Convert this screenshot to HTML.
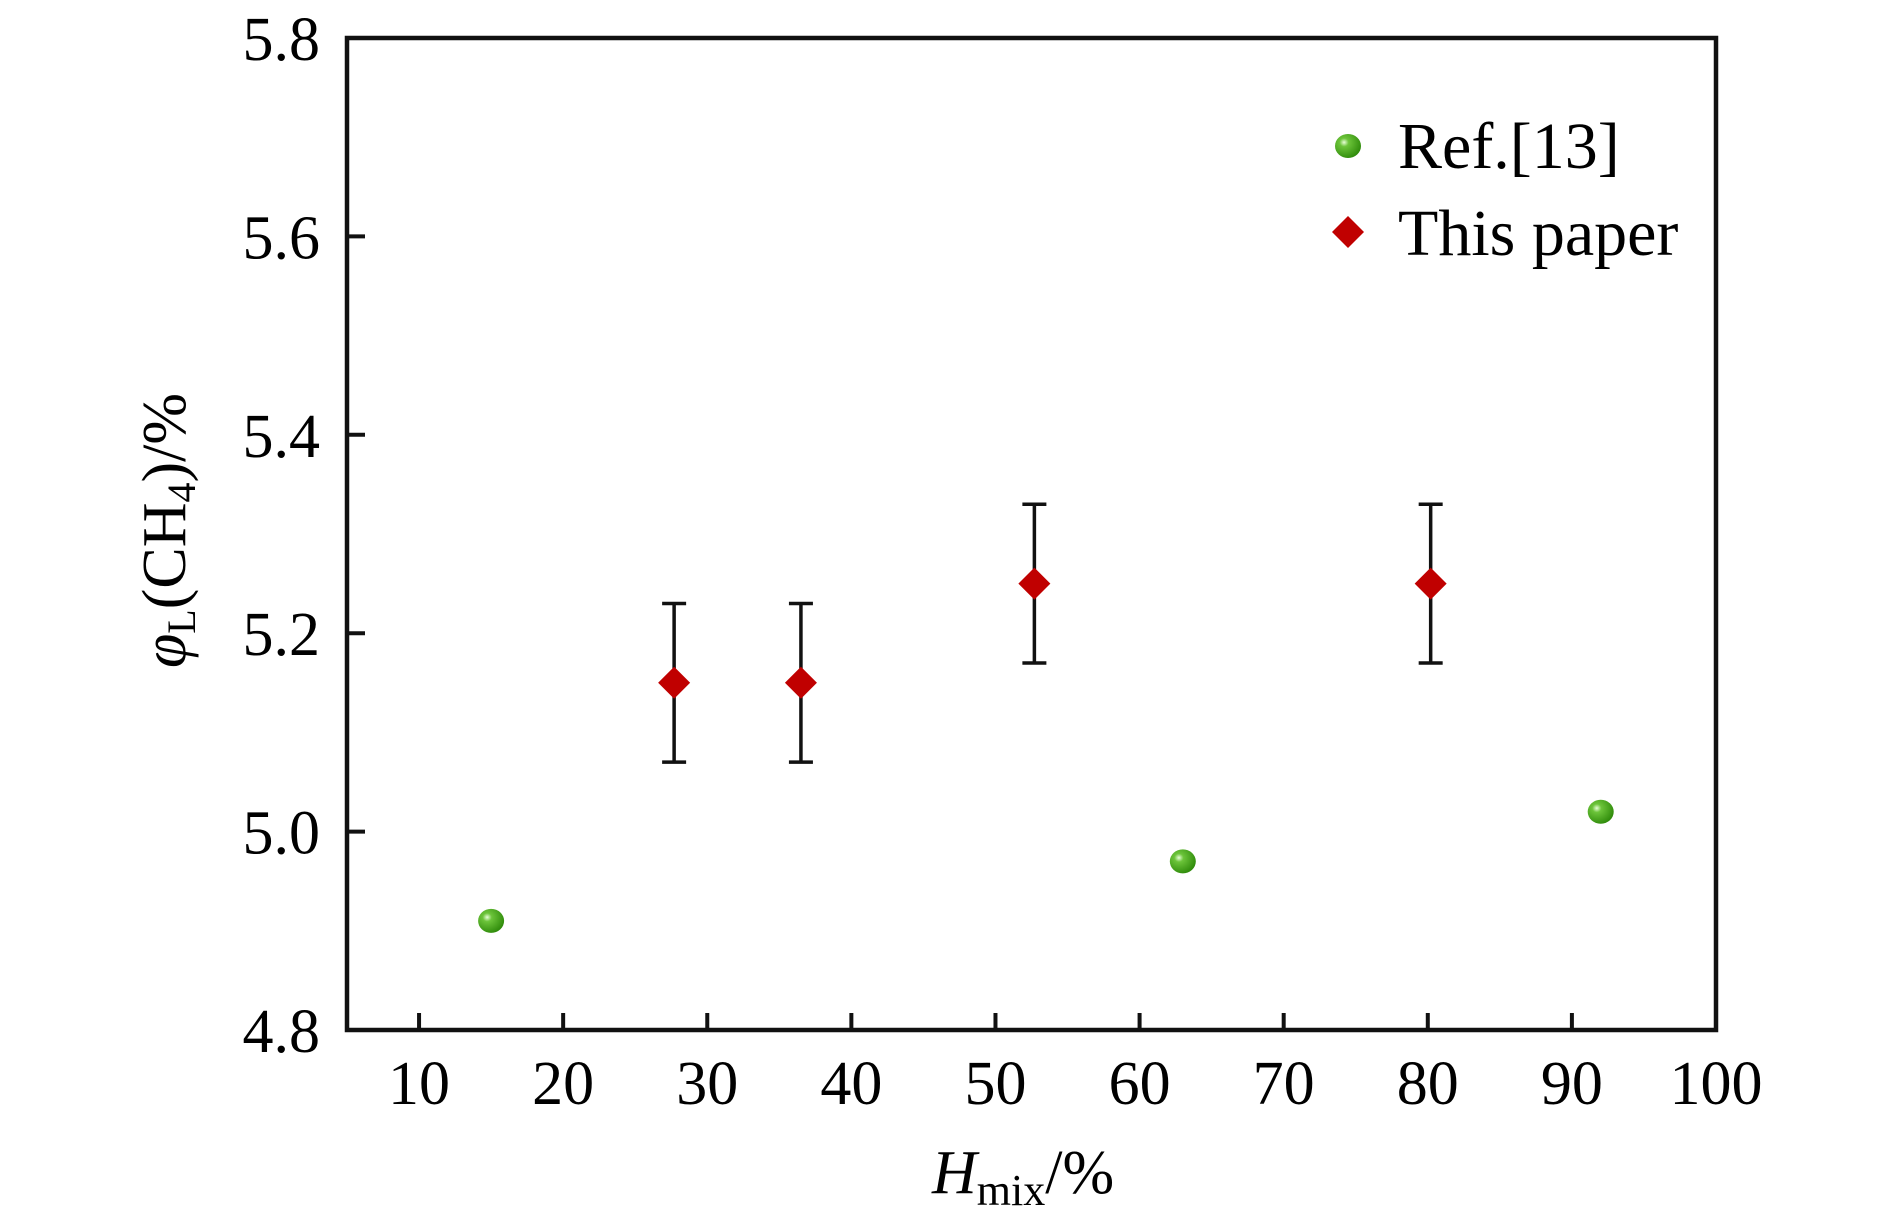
<!DOCTYPE html>
<html><head><meta charset="utf-8"><style>
html,body{margin:0;padding:0;background:#fff;}
svg{display:block;font-family:"Liberation Serif","DejaVu Serif",serif;}
</style></head><body>
<svg id="chart" width="1890" height="1214" viewBox="0 0 1890 1214">
<defs>
<radialGradient id="ball" cx="0.35" cy="0.35" r="0.7">
<stop offset="0" stop-color="#e8ffd8"/><stop offset="0.25" stop-color="#6cc43a"/><stop offset="1" stop-color="#2e8a0a"/>
</radialGradient>
</defs>
<g id="axes"></g>
<g id="marks"></g>
<g>
<ellipse cx="1348" cy="146" rx="13" ry="12" fill="url(#ball)"/>
<text x="1398" y="168" font-size="66">Ref.[13]</text>
<polygon points="1348,216 1364,232 1348,248 1332,232" fill="#c00000"/>
<text x="1398" y="255" font-size="66">This paper</text>
</g>
<text x="932" y="1193" font-size="62"><tspan font-style="italic">H</tspan><tspan font-size="44" dy="12">mix</tspan><tspan dy="-12">/%</tspan></text>
<text transform="translate(185,668) rotate(-90)" font-size="62"><tspan font-style="italic">φ</tspan><tspan font-size="40" dy="10">L</tspan><tspan dy="-10">(CH</tspan><tspan font-size="40" dy="10">4</tspan><tspan dy="-10">)/%</tspan></text>
</svg>
<script>
const xTicks=[10,20,30,40,50,60,70,80,90,100];
const yTicks=[4.8,5.0,5.2,5.4,5.6,5.8];
const yTickLabels=["4.8","5.0","5.2","5.4","5.6","5.8"];
const refX=[15,63,92];
const refY=[4.91,4.97,5.02];
const paperX=[27.7,36.5,52.7,80.2];
const paperY=[5.15,5.15,5.25,5.25];
const paperErr=[0.08,0.08,0.08,0.08];
const L=347,R=1716,T=38,B=1030;
const xMin=5,xMax=100,yMin=4.8,yMax=5.8;
const sx=v=>L+(v-xMin)/(xMax-xMin)*(R-L);
const sy=v=>B-(v-yMin)/(yMax-yMin)*(B-T);
const NS="http://www.w3.org/2000/svg";
function mk(tag,attrs,parent){const e=document.createElementNS(NS,tag);for(const k in attrs)e.setAttribute(k,attrs[k]);parent.appendChild(e);return e;}
const axes=document.getElementById('axes'),marks=document.getElementById('marks');
let frame=mk('rect',{x:L,y:T,width:R-L,height:B-T,fill:'none',stroke:'#111','stroke-width':4.5},axes);


xTicks.forEach(v=>{
 let t=mk('line',{x1:sx(v),x2:sx(v),y1:B,y2:B-17,stroke:'#111','stroke-width':4},axes);
 
 
 let l=mk('text',{x:sx(v),y:1104,'font-size':62,'text-anchor':'middle'},axes);
 l.textContent=v;
 
 
});
yTicks.forEach((v,i)=>{
 let t=mk('line',{x1:L,x2:L+18,y1:sy(v),y2:sy(v),stroke:'#111','stroke-width':4},axes);
 
 
 let l=mk('text',{x:320,y:sy(v)+22,'font-size':62,'text-anchor':'end'},axes);
 l.textContent=yTickLabels[i];
 
 
});
refX.forEach((v,i)=>{
 let c=mk('ellipse',{cx:sx(v),cy:sy(refY[i]),rx:13,ry:12,fill:'url(#ball)'},marks);
 
 
});
paperX.forEach((v,i)=>{
 const x=sx(v),y=sy(paperY[i]),y1=sy(paperY[i]+paperErr[i]),y2=sy(paperY[i]-paperErr[i]);
 let g=mk('g',{stroke:'#111','stroke-width':3.5},marks);
 
 
 mk('line',{x1:x,x2:x,y1:y1,y2:y2},g);
 mk('line',{x1:x-12,x2:x+12,y1:y1,y2:y1},g);
 mk('line',{x1:x-12,x2:x+12,y1:y2,y2:y2},g);
 let d=mk('polygon',{points:`${x},${y-16} ${x+16},${y} ${x},${y+16} ${x-16},${y}`,fill:'#c00000'},marks);
 
 
});
</script>
</body></html>
